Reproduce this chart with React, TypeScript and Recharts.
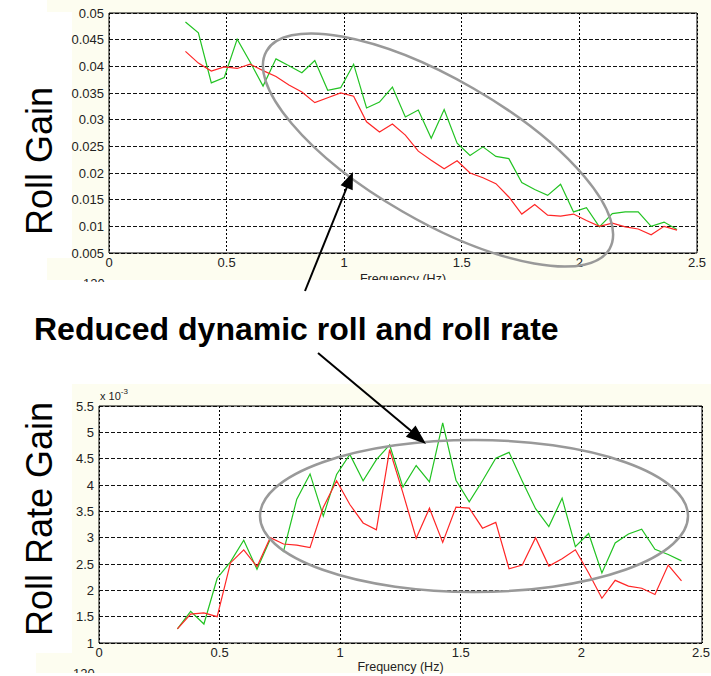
import React from "react";
import { LineChart, Line, XAxis, YAxis, CartesianGrid, ReferenceLine } from "recharts";

const FONT = '"Liberation Sans", Arial, Helvetica, sans-serif';

// frequency bins (Hz), shared by both plots
const freqHz = [
  0.325, 0.38, 0.435, 0.49, 0.545, 0.6, 0.655, 0.71, 0.765, 0.82,
  0.875, 0.93, 0.985, 1.04, 1.095, 1.15, 1.205, 1.26, 1.315, 1.37,
  1.425, 1.48, 1.535, 1.59, 1.645, 1.7, 1.755, 1.81, 1.865, 1.92,
  1.975, 2.03, 2.085, 2.14, 2.195, 2.25, 2.305, 2.36, 2.415,
];

const rollGainGreen = [
  0.0483, 0.0463, 0.0369, 0.0379, 0.0451, 0.0408, 0.0363, 0.0414, 0.0401, 0.0388,
  0.0411, 0.0355, 0.036, 0.0404, 0.0322, 0.0333, 0.0361, 0.0305, 0.0318, 0.0265,
  0.0319, 0.0256, 0.0233, 0.0249, 0.0231, 0.0227, 0.0182, 0.0169, 0.0158, 0.0179,
  0.0127, 0.0135, 0.0099, 0.0124, 0.0127, 0.0127, 0.01, 0.0108, 0.0094,
];

const rollGainRed = [
  0.0428, 0.0406, 0.0391, 0.0399, 0.0396, 0.0404, 0.0392, 0.0381, 0.0365, 0.0352,
  0.0332, 0.0341, 0.035, 0.0344, 0.0296, 0.0277, 0.0292, 0.0271, 0.0241, 0.0224,
  0.0208, 0.0223, 0.02, 0.0191, 0.018, 0.0155, 0.0123, 0.0141, 0.0121, 0.0119,
  0.0123, 0.0111, 0.01, 0.0106, 0.0099, 0.0095, 0.0084, 0.01, 0.0093,
];

// roll rate gain, in units of 1e-3
const rollRateGreen = [
  1.27, 1.6, 1.36, 2.23, 2.54, 2.95, 2.4, 2.97, 2.74, 3.73,
  4.21, 3.41, 4.2, 4.58, 4.08, 4.48, 4.76, 3.96, 4.37, 4.06,
  5.18, 4.09, 3.68, 4.08, 4.51, 4.62, 4.07, 3.55, 3.21, 3.75,
  2.83, 3.08, 2.33, 2.9, 3.07, 3.16, 2.78, 2.68, 2.56,
];

const rollRateRed = [
  1.27, 1.55, 1.57, 1.5, 2.52, 2.77, 2.45, 3.0, 2.88, 2.86,
  2.81, 3.58, 4.08, 3.63, 3.28, 3.15, 4.67, 3.85, 2.99, 3.56,
  2.91, 3.58, 3.56, 3.18, 3.29, 2.41, 2.48, 3.0, 2.46, 2.6,
  2.77, 2.33, 1.85, 2.19, 2.08, 2.04, 1.92, 2.48, 2.18,
];

const freqTicks = [0, 0.5, 1, 1.5, 2, 2.5];
const rollGainTicks = [0.005, 0.01, 0.015, 0.02, 0.025, 0.03, 0.035, 0.04, 0.045, 0.05];
const rollRateTicks = [1, 1.5, 2, 2.5, 3, 3.5, 4, 4.5, 5, 5.5];

const GREEN = "#22c322";
const RED = "#ff2626";
const CREAM = "#fdfdf0";

const XTick = (props: any) => {
  const { x, y, payload } = props;
  return (
    <text x={x} y={y + 14} textAnchor="middle" fontSize={13} fill="#222" fontFamily={FONT}>
      {String(payload.value)}
    </text>
  );
};

const YTick = (props: any) => {
  const { x, y, payload } = props;
  return (
    <text x={x - 5} y={y + 4.5} textAnchor="end" fontSize={13} fill="#222" fontFamily={FONT}>
      {String(payload.value)}
    </text>
  );
};

const freqLabel = (offset: number) => (props: any) => {
  const vb = props.viewBox;
  return (
    <text x={vb.x + vb.width / 2} y={vb.y + offset} textAnchor="middle" fontSize={12.5} fill="#222" fontFamily={FONT}>
      Frequency (Hz)
    </text>
  );
};

type PanelProps = {
  green: number[];
  red: number[];
  yTicks: number[];
  width: number;
  height: number;
  margin: { top: number; right: number; left: number; bottom: number };
  yAxisWidth: number;
  xAxisHeight: number;
  labelOffset: number;
};

function GainPanel({ green, red, yTicks, width, height, margin, yAxisWidth, xAxisHeight, labelOffset }: PanelProps) {
  const data = freqHz.map((f, i) => ({ f, green: green[i], red: red[i] }));
  const yMin = yTicks[0];
  const yMax = yTicks[yTicks.length - 1];
  const Label = freqLabel(labelOffset);
  return (
    <LineChart width={width} height={height} data={data} margin={margin}>
      <CartesianGrid fill="#fff" stroke="#000" strokeDasharray="2 2" horizontal={false} shapeRendering="crispEdges" />
      <CartesianGrid stroke="#111" strokeDasharray="3.5 2.5" vertical={false} shapeRendering="crispEdges" />
      <XAxis
        type="number"
        dataKey="f"
        domain={[0, 2.5]}
        ticks={freqTicks}
        height={xAxisHeight}
        stroke="#000"
        tickLine={false}
        tickSize={0}
        tickMargin={0}
        tick={<XTick />}
        label={<Label />}
      />
      <YAxis
        type="number"
        domain={[yMin, yMax]}
        ticks={yTicks}
        allowDataOverflow
        width={yAxisWidth}
        stroke="#000"
        tickLine={false}
        tickSize={0}
        tickMargin={0}
        tick={<YTick />}
      />
      <ReferenceLine y={yMax} stroke="#000" strokeWidth={1} />
      <ReferenceLine x={2.5} stroke="#000" strokeWidth={1} />
      <Line type="linear" dataKey="green" stroke={GREEN} strokeWidth={1.2} dot={false} isAnimationActive={false} />
      <Line type="linear" dataKey="red" stroke={RED} strokeWidth={1.2} dot={false} isAnimationActive={false} />
    </LineChart>
  );
}

function arrowHead(tail: [number, number], tip: [number, number], len: number, half: number) {
  const dx = tip[0] - tail[0];
  const dy = tip[1] - tail[1];
  const d = Math.hypot(dx, dy);
  const ux = dx / d;
  const uy = dy / d;
  const bx = tip[0] - ux * len;
  const by = tip[1] - uy * len;
  return `${tip[0]},${tip[1]} ${bx - uy * half},${by + ux * half} ${bx + uy * half},${by - ux * half}`;
}

export default function App() {
  const topTail: [number, number] = [305, 291];
  const topTip: [number, number] = [353, 172];
  const botTail: [number, number] = [318, 353];
  const botTip: [number, number] = [426, 444];

  return (
    <div style={{ position: "absolute", left: 0, top: 0, width: 711, height: 676, background: "#fff", overflow: "hidden" }}>
      {/* figure backgrounds */}
      <div style={{ position: "absolute", left: 47, top: 0, width: 664, height: 280, background: CREAM }} />
      <div style={{ position: "absolute", left: 0, top: 12, width: 72, height: 246, background: "#fff" }} />
      <div style={{ position: "absolute", left: 36, top: 384, width: 675, height: 289, background: CREAM }} />
      <div style={{ position: "absolute", left: 0, top: 384, width: 72, height: 269, background: "#fff" }} />

      <div style={{ position: "absolute", left: 0, top: 0, width: 711, height: 280, overflow: "hidden" }}>
        <GainPanel
          green={rollGainGreen}
          red={rollGainRed}
          yTicks={rollGainTicks}
          width={711}
          height={280}
          margin={{ top: 13, right: 14, left: 0, bottom: 0 }}
          yAxisWidth={109}
          xAxisHeight={27}
          labelOffset={30}
        />
      </div>

      <div style={{ position: "absolute", left: 0, top: 384, width: 711, height: 292 }}>
        <GainPanel
          green={rollRateGreen}
          red={rollRateRed}
          yTicks={rollRateTicks}
          width={711}
          height={292}
          margin={{ top: 22, right: 9, left: 0, bottom: 0 }}
          yAxisWidth={99}
          xAxisHeight={33}
          labelOffset={28}
        />
      </div>

      <svg width={711} height={676} style={{ position: "absolute", left: 0, top: 0, pointerEvents: "none" }}>
        <defs>
          <clipPath id="cutTop">
            <rect x={60} y={276} width={60} height={6} />
          </clipPath>
          <clipPath id="cutBottom">
            <rect x={60} y={666} width={60} height={7} />
          </clipPath>
        </defs>
        <text x={83} y={287.5} fontSize={13} fill="#222" fontFamily={FONT} clipPath="url(#cutTop)">120</text>
        <text x={73} y={677.5} fontSize={13} fill="#222" fontFamily={FONT} clipPath="url(#cutBottom)">120</text>

        <text x={100} y={400} fontSize={11} fill="#222" fontFamily={FONT}>
          x 10<tspan dy={-6} fontSize={8}>-3</tspan>
        </text>

        <text transform="translate(52,161) rotate(-90)" textAnchor="middle" fontSize={36} fill="#000" fontFamily={FONT}>
          Roll Gain
        </text>
        <text transform="translate(52,519) rotate(-90)" textAnchor="middle" fontSize={36} fill="#000" fontFamily={FONT}>
          Roll Rate Gain
        </text>

        <text x={34} y={340} fontSize={32} fontWeight="bold" fill="#000" fontFamily={FONT}>
          Reduced dynamic roll and roll rate
        </text>

        <ellipse cx={438} cy={150} rx={198} ry={71} transform="rotate(30 438 150)" fill="none" stroke="#999" strokeWidth={2.5} />
        <ellipse cx={474} cy={516} rx={214} ry={76} fill="none" stroke="#999" strokeWidth={2.5} />

        <line x1={topTail[0]} y1={topTail[1]} x2={topTip[0] - 4} y2={topTip[1] + 10} stroke="#000" strokeWidth={2} />
        <polygon points={arrowHead(topTail, topTip, 17, 6.5)} fill="#000" />
        <line x1={botTail[0]} y1={botTail[1]} x2={botTip[0] - 10} y2={botTip[1] - 9} stroke="#000" strokeWidth={2} />
        <polygon points={arrowHead(botTail, botTip, 20, 7.5)} fill="#000" />
      </svg>
    </div>
  );
}
